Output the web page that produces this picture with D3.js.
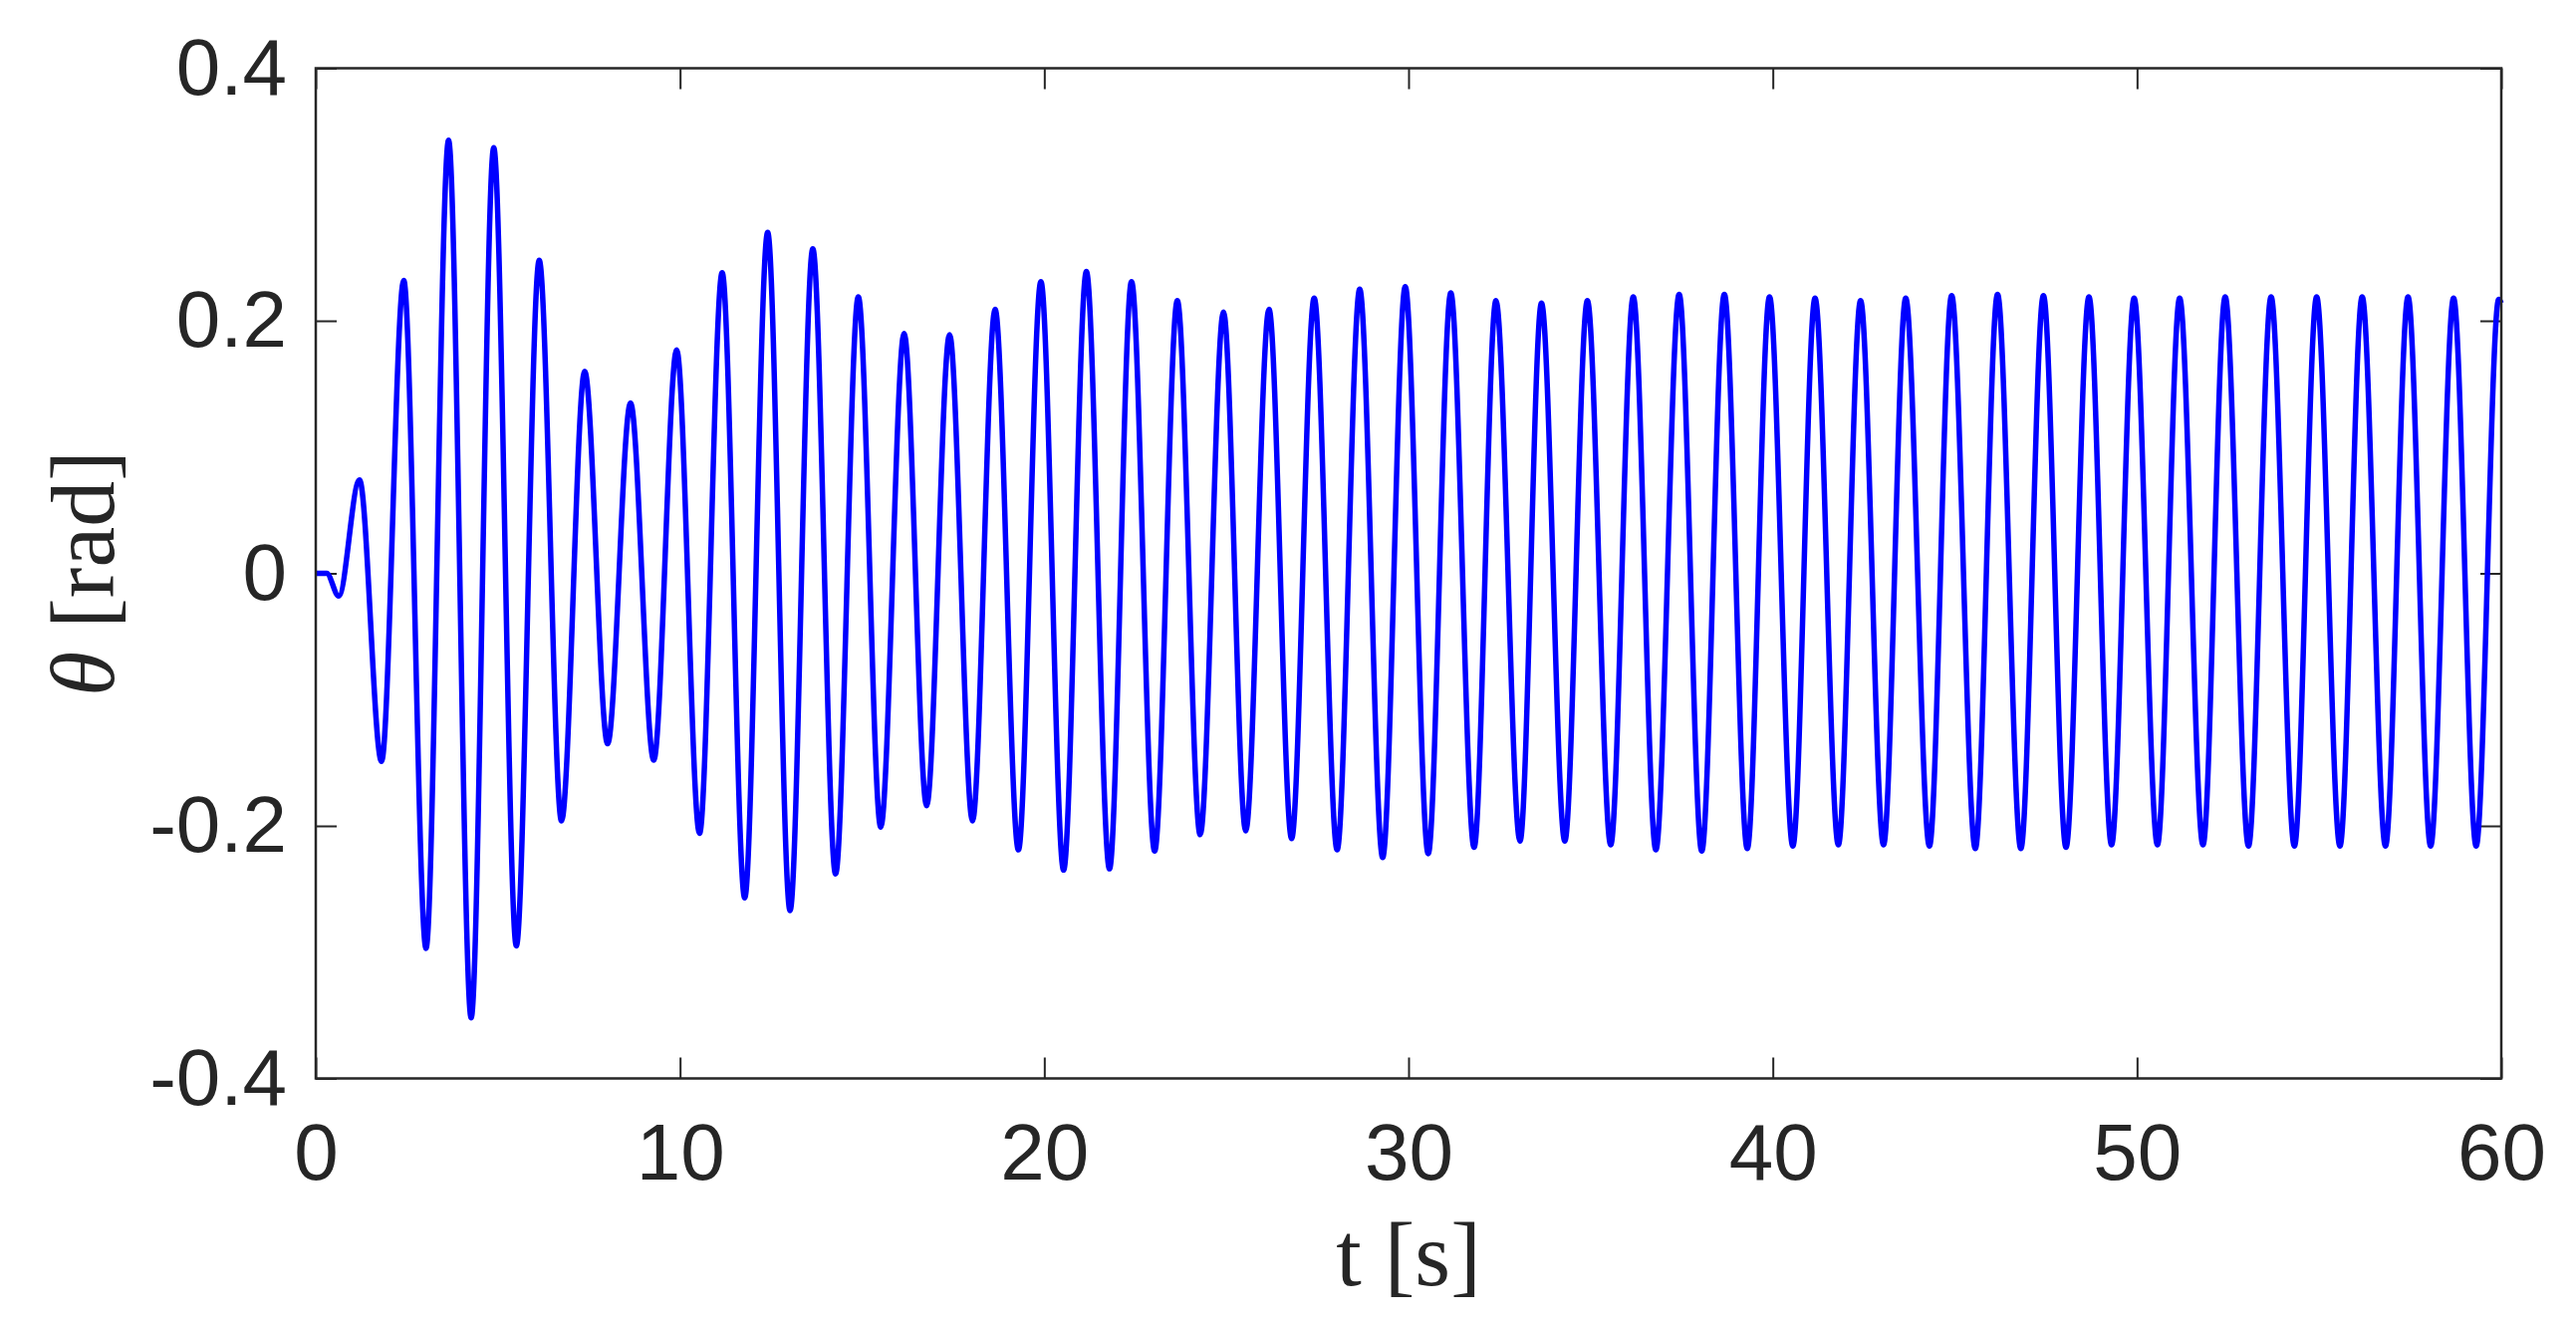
<!DOCTYPE html>
<html>
<head>
<meta charset="utf-8">
<script src="https://cdn.jsdelivr.net/npm/d3@7"></script>
<style>
  body { margin: 0; background: #fff; }
  .tick text { font-family: "Liberation Sans", Arial, sans-serif; fill: #262626; }
  .axlabel { font-family: "Liberation Serif", "Times New Roman", serif; fill: #262626; }
</style>
</head>
<body>
<div id="chart"></div>
<script>
// tick values and labels
let tTicks = [0, 10, 20, 30, 40, 50, 60]
let thetaTicks = [-0.4, -0.2, 0, 0.2, 0.4]
let thetaTickLabels = ['-0.4', '-0.2', '0', '0.2', '0.4']

// response: start, then alternating troughs / peaks
let tPts = [0, 0.3, 0.63, 1.2, 1.805, 2.415, 3.027, 3.646, 4.266, 4.886, 5.506, 6.134,
  6.746, 7.383, 8.012, 8.641, 9.278, 9.908, 10.536, 11.157, 11.776, 12.406, 13.02,
  13.645, 14.27, 14.894, 15.51, 16.152, 16.77, 17.40, 18.03, 18.65, 19.29, 19.907,
  20.53, 21.156, 21.79, 22.395, 23.03, 23.653, 24.28, 24.92, 25.53, 26.17, 26.79,
  27.41, 28.04, 28.66, 29.29, 29.91, 30.54, 31.16, 31.80, 32.40, 33.06, 33.65, 34.29,
  34.91, 35.55, 36.17, 36.79, 37.43, 38.05, 38.67, 39.30, 39.91, 40.55, 41.16, 41.80,
  42.41, 43.04, 43.65, 44.30, 44.91, 45.56, 46.17, 46.81, 47.43, 48.05, 48.68, 49.30,
  49.92, 50.56, 51.17, 51.81, 52.42, 53.06, 53.68, 54.32, 54.93, 55.57, 56.18, 56.82,
  57.44, 58.06, 58.69, 59.31, 59.93, 60]
let thetaPts = [0, 0, -0.018, 0.074, -0.149, 0.232, -0.297, 0.343, -0.352, 0.337, -0.295,
  0.248, -0.196, 0.160, -0.135, 0.135, -0.148, 0.177, -0.206, 0.238, -0.257, 0.270,
  -0.267, 0.257, -0.238, 0.219, -0.201, 0.190, -0.184, 0.189, -0.196, 0.209, -0.219,
  0.231, -0.235, 0.239, -0.234, 0.231, -0.220, 0.216, -0.207, 0.207, -0.204, 0.209,
  -0.210, 0.218, -0.219, 0.225, -0.225, 0.227, -0.222, 0.222, -0.217, 0.216, -0.212,
  0.214, -0.212, 0.216, -0.215, 0.219, -0.219, 0.221, -0.220, 0.221, -0.218, 0.219,
  -0.216, 0.218, -0.215, 0.216, -0.215, 0.218, -0.216, 0.220, -0.218, 0.221, -0.218,
  0.220, -0.217, 0.219, -0.215, 0.218, -0.215, 0.218, -0.215, 0.219, -0.216, 0.219,
  -0.216, 0.219, -0.216, 0.219, -0.216, 0.219, -0.216, 0.218, -0.216, 0.217, 0.214]

let width = 2586, height = 1331
let margin = {top: 68.5, right: 75, bottom: 248.5, left: 317}
let innerW = width - margin.left - margin.right
let innerH = height - margin.top - margin.bottom

let svg = d3.select('#chart')
  .append('svg')
  .attr('width', width)
  .attr('height', height)

let g = svg.append('g')
  .attr('transform', 'translate(' + margin.left + ',' + margin.top + ')')

let x = d3.scaleLinear().domain([0, 60]).range([0, innerW])
let y = d3.scaleLinear().domain([-0.4, 0.4]).range([innerH, 0])

let tickLen = 21

// bottom + left axes carry the labels, top + right only the inward ticks
g.append('g')
  .attr('transform', 'translate(0,' + innerH + ')')
  .call(d3.axisBottom(x).tickValues(tTicks).tickSize(-tickLen).tickSizeOuter(0).tickPadding(45))
  .call(ax => ax.select('.domain').remove())

g.append('g')
  .call(d3.axisLeft(y).tickValues(thetaTicks).tickSize(-tickLen).tickSizeOuter(0).tickPadding(29)
    .tickFormat((d, i) => thetaTickLabels[i]))
  .call(ax => ax.select('.domain').remove())

g.append('g')
  .call(d3.axisTop(x).tickValues(tTicks).tickSize(-tickLen).tickSizeOuter(0).tickFormat(''))
  .call(ax => ax.select('.domain').remove())

g.append('g')
  .attr('transform', 'translate(' + innerW + ',0)')
  .call(d3.axisRight(y).tickValues(thetaTicks).tickSize(-tickLen).tickSizeOuter(0).tickFormat(''))
  .call(ax => ax.select('.domain').remove())

g.selectAll('.tick line').attr('stroke', '#262626').attr('stroke-width', 2)
g.selectAll('.tick text').style('font-size', '80px')

// the curve
let line = d3.line()
  .x((d, i) => x(tPts[i]))
  .y(d => y(d))
  .curve(d3.curveMonotoneX)

g.append('path')
  .datum(thetaPts)
  .attr('d', line)
  .attr('fill', 'none')
  .attr('stroke', '#0000ff')
  .attr('stroke-width', 5.5)
  .attr('stroke-linejoin', 'round')

// box
g.append('rect')
  .attr('width', innerW)
  .attr('height', innerH)
  .attr('fill', 'none')
  .attr('stroke', '#262626')
  .attr('stroke-width', 2.5)

// axis labels
svg.append('text')
  .attr('class', 'axlabel')
  .attr('x', margin.left + innerW / 2)
  .attr('y', 1290)
  .attr('text-anchor', 'middle')
  .style('font-size', '92px')
  .text('t [s]')

let yl = svg.append('text')
  .attr('class', 'axlabel')
  .attr('transform', 'translate(114,' + (margin.top + innerH / 2) + ') rotate(-90)')
  .attr('text-anchor', 'middle')
  .style('font-size', '92px')
yl.append('tspan').style('font-style', 'italic').text('θ')
yl.append('tspan').text(' [rad]')
</script>
</body>
</html>
